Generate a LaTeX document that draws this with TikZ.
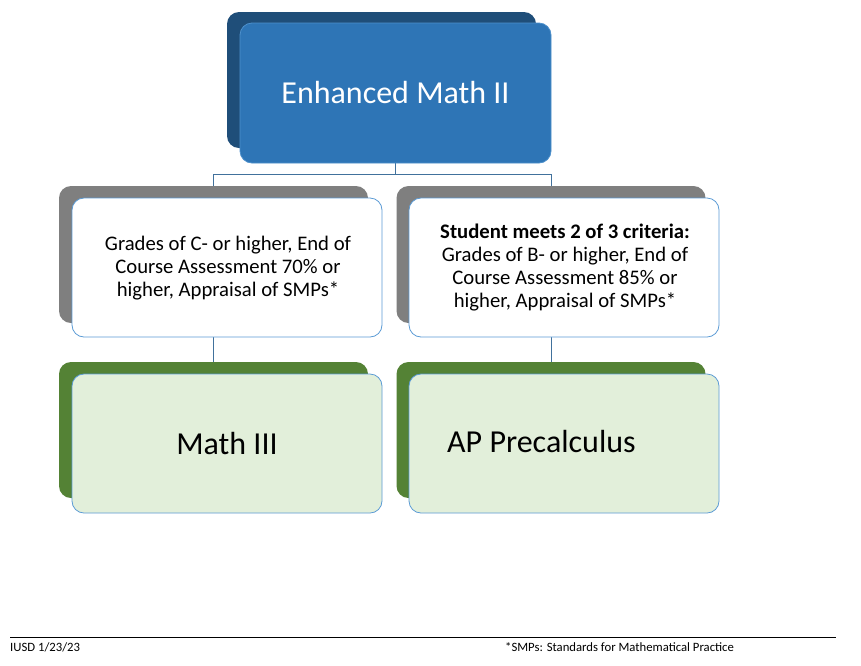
\documentclass[tikz,border=0pt]{standalone}
\usepackage{fontspec}
\setmainfont{Carlito}
\usetikzlibrary{backgrounds}
\pgfdeclarelayer{paper}
\pgfsetlayers{paper,background,main}
\definecolor{dblue}{HTML}{1F4E79}
\definecolor{mblue}{HTML}{2E75B6}
\definecolor{bordblue}{HTML}{5B9BD5}
\definecolor{linkblue}{HTML}{41719C}
\definecolor{dgray}{HTML}{7F7F7F}
\definecolor{dgreen}{HTML}{548235}
\definecolor{lgreen}{HTML}{E2EFDA}
\tikzset{
  box/.style={rectangle, rounded corners=12pt, inner sep=0pt},
  backbox/.style={box, minimum width=309pt, minimum height=137pt},
  frontbox/.style={box, draw=bordblue, line width=0.8pt, minimum width=310pt, minimum height=139pt},
  link/.style={draw=linkblue, line width=1pt},
  crit/.style={font=\fontsize{20.7pt}{23pt}\selectfont, align=center},
  big/.style={font=\fontsize{32pt}{36pt}\selectfont},
  foot/.style={font=\fontsize{12.7pt}{14pt}\selectfont, anchor=west, inner sep=0pt}
}
\begin{document}
\begin{tikzpicture}[x=1pt,y=-1pt]
\begin{pgfonlayer}{paper}
\fill[white] (0,0) rectangle (861,665);
\end{pgfonlayer}
\useasboundingbox (0,0) rectangle (861,665);
% back boxes
\node[backbox, fill=dblue, minimum height=136pt] (topb) at (381.5,80) {};
\node[backbox, fill=dgray] (gl) at (213.5,254.5) {};
\node[backbox, fill=dgray] (gr) at (551,254.5) {};
\node[backbox, fill=dgreen, minimum height=136pt] (grl) at (213.5,430) {};
\node[backbox, fill=dgreen, minimum height=136pt] (grr) at (551,430) {};
% front boxes
\node[frontbox, fill=mblue, draw=bordblue!70!mblue, text=white, big, minimum width=311pt, minimum height=140pt] (top) at (395.5,93) {Enhanced Math II};
\node[frontbox, fill=white] (wl) at (227,267.5) {};
\node[crit] (tl) at (228,268) {Grades of C- or higher, End of\\Course Assessment 70\% or\\higher, Appraisal of SMPs*};
\node[frontbox, fill=white] (wr) at (564,267.5) {};
\node[crit] (tr) at (565,268) {\textbf{Student meets 2 of 3 criteria:}\\Grades of B- or higher, End of\\Course Assessment 85\% or\\higher, Appraisal of SMPs*};
\node[frontbox, fill=lgreen, big] (m3) at (227,443.5) {Math III};
\node[frontbox, fill=lgreen] (ap) at (564,443.5) {};
\node[big, anchor=west, inner sep=0pt] (apt) at (447,441) {AP Precalculus};
% connectors
\begin{scope}[on background layer]
\draw[link] (top.south) -- ++(0,11) -| (gl.north);
\draw[link] (top.south) -- ++(0,11) -| (gr.north);
\draw[link] (gl.south) -- (grl.north);
\draw[link] (gr.south) -- (grr.north);
\end{scope}
% footer
\coordinate (fl) at (10,637);
\coordinate (fr) at (836,637);
\draw[line width=1pt] (fl) -- (fr);
\node[foot] (f1) at (10,647) {IUSD 1/23/23};
\node[foot] (f2) at (505,647) {*SMPs: Standards for Mathematical Practice};
\end{tikzpicture}
\end{document}
